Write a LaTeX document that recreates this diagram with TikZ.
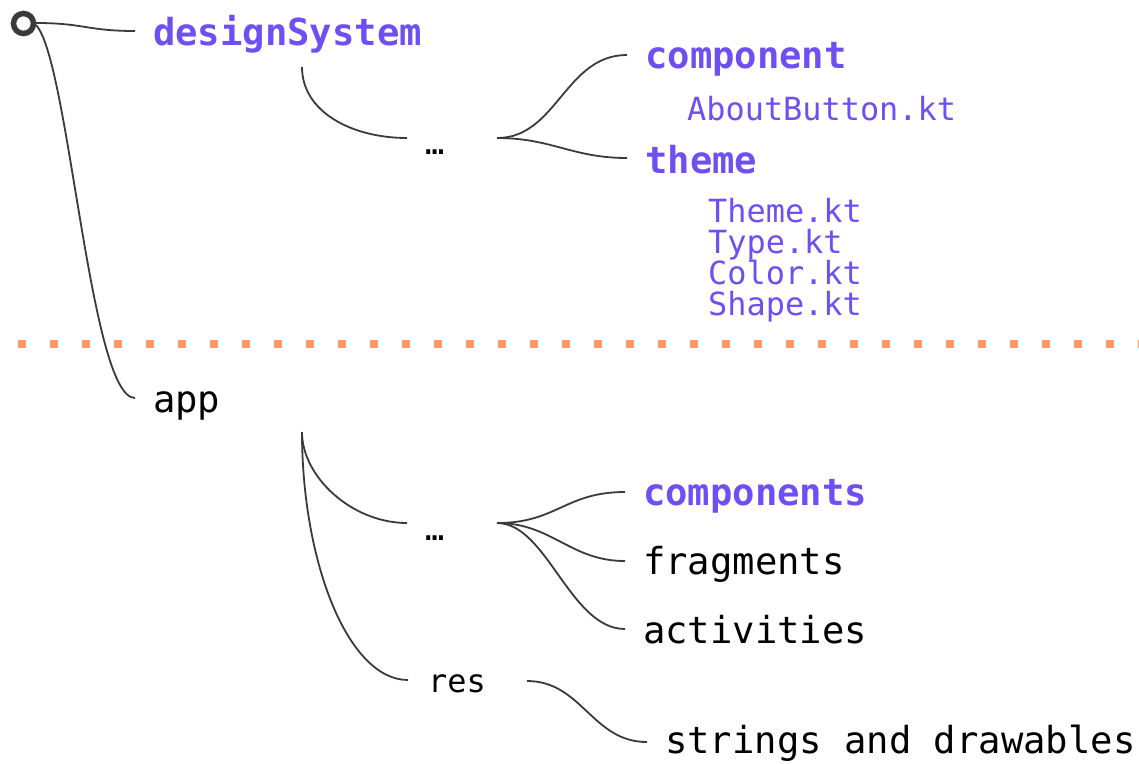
\documentclass[tikz,border=0pt]{standalone}
\usepackage{fontspec}
\setmonofont{DejaVu Sans Mono}
\definecolor{purp}{RGB}{110,80,242}
\definecolor{orng}{RGB}{255,153,102}
\definecolor{lnc}{RGB}{58,58,58}
\begin{document}
\begin{tikzpicture}[x=1pt,y=-1pt,
  conn/.style={draw=lnc, line width=1.8pt},
  big/.style={anchor=base west, inner sep=0, font=\fontsize{37.2}{40}\selectfont\ttfamily},
  bigb/.style={anchor=base west, inner sep=0, font=\fontsize{37.2}{40}\selectfont\ttfamily\bfseries, text=purp},
  small/.style={anchor=base west, inner sep=0, font=\fontsize{31.9}{34}\selectfont\ttfamily},
  smallp/.style={small, text=purp},
  sep/.style={draw=orng, line width=8pt, dash pattern=on 8pt off 24pt}
]
\useasboundingbox (0,0) rectangle (1139,763);

% separator
\coordinate (sepL) at (18,343.5);
\coordinate (sepR) at (1146,343.5);
\draw[sep] (sepL) -- (sepR);

% root
\node[draw=lnc, circle, line width=5.5pt, minimum size=20pt, inner sep=0] (root) at (23.5,23.5) {};

% labels
\node[bigb] (ds) at (153,45) {designSystem};
\node[bigb] (comp) at (645,68) {component};
\node[smallp] (about) at (687,120) {AboutButton.kt};
\node[bigb] (theme) at (645,173) {theme};
\node[smallp] (f1) at (708,222) {Theme.kt};
\node[smallp] (f2) at (708,253) {Type.kt};
\node[smallp] (f3) at (708,284) {Color.kt};
\node[smallp] (f4) at (708,315) {Shape.kt};
\node[small] (dotsA) at (425,154) {…};

\node[big] (app) at (153,412) {app};
\node[small] (dotsB) at (425,540) {…};
\node[bigb] (comps) at (643,505) {components};
\node[big] (frag) at (643,574) {fragments};
\node[big] (act) at (643,643) {activities};
\node[small] (res) at (428,692) {res};
\node[big] (str) at (665,753) {strings and drawables};

% connector end points
\coordinate (rootE) at (36,23);
\coordinate (rootS) at (36,25);
\coordinate (dsIn) at (135,31);
\coordinate (appIn) at (135,398);
\coordinate (dsOut) at (302,67);
\coordinate (aIn) at (407,138);
\coordinate (aOut) at (497,138);
\coordinate (compIn) at (627,55);
\coordinate (themeIn) at (627,158);
\coordinate (appOut) at (302,432);
\coordinate (bIn) at (407,523);
\coordinate (resIn) at (408,680);
\coordinate (bOut) at (497,523);
\coordinate (compsIn) at (625,492);
\coordinate (fragIn) at (625,561);
\coordinate (actIn) at (625,629);
\coordinate (resOut) at (527,681);
\coordinate (strIn) at (647,742);

% connectors
\draw[conn] (rootE) .. controls +(48,0) and +(-48,0) .. (dsIn);
\draw[conn] (rootS) .. controls +(33,35) and +(-45,0) .. (appIn);
\draw[conn] (dsOut) .. controls +(0,45) and +(-55,0) .. (aIn);
\draw[conn] (aOut) .. controls +(60,0) and +(-62,0) .. (compIn);
\draw[conn] (aOut) .. controls +(55,0) and +(-55,0) .. (themeIn);
\draw[conn] (appOut) .. controls +(0,45) and +(-55,0) .. (bIn);
\draw[conn] (appOut) .. controls +(0,130) and +(-60,0) .. (resIn);
\draw[conn] (bOut) .. controls +(60,0) and +(-60,0) .. (compsIn);
\draw[conn] (bOut) .. controls +(55,0) and +(-55,0) .. (fragIn);
\draw[conn] (bOut) .. controls +(50,0) and +(-55,0) .. (actIn);
\draw[conn] (resOut) .. controls +(55,0) and +(-55,0) .. (strIn);
\end{tikzpicture}
\end{document}
